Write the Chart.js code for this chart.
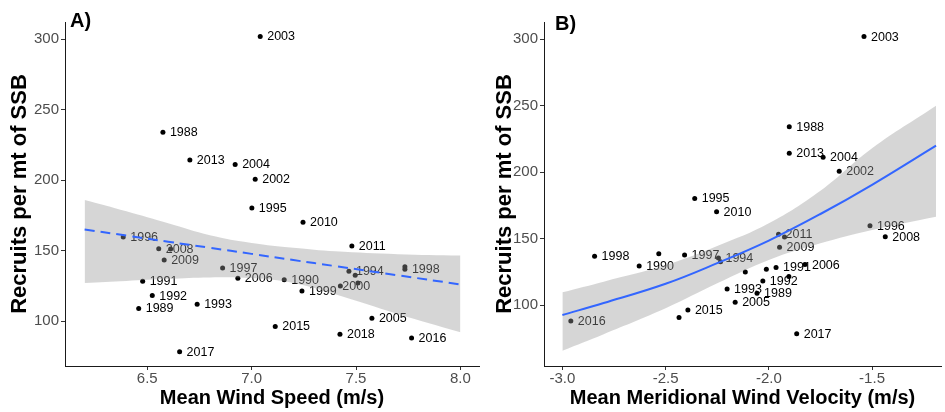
<!DOCTYPE html>
<html>
<head>
<meta charset="utf-8">
<script src="https://cdn.jsdelivr.net/npm/chart.js@4"></script>
<style>
  html, body { margin: 0; padding: 0; background: #fff; }
  #wrap { position: relative; width: 945px; height: 412px; }
  .panel { position: absolute; top: 0; height: 412px; }
  #panelA { left: 0; width: 485px; }
  #panelB { left: 485px; width: 460px; }
</style>
</head>
<body>
<div id="wrap">
  <div class="panel" id="panelA"><canvas id="chartA" width="485" height="412"></canvas></div>
  <div class="panel" id="panelB"><canvas id="chartB" width="460" height="412"></canvas></div>
</div>
<script>
// one entry per year
const years = [1988, 1989, 1990, 1991, 1992, 1993, 1994, 1995, 1996, 1997, 1998,
  1999, 2000, 2001, 2002, 2003, 2004, 2005, 2006, 2007, 2008,
  2009, 2010, 2011, 2012, 2013, 2014, 2015, 2016, 2017, 2018];
const recruits = [234.1, 108.9, 129.3, 128.3, 118.1, 112.0, 135.3, 180.2, 159.7, 137.7, 136.7,
  121.4, 124.9, 151.2, 200.7, 302.0, 211.2, 102.0, 130.4, 138.6, 151.4,
  143.4, 170.1, 153.2, 132.5, 214.3, 127.0, 96.2, 88.0, 78.3, 90.6];
const windSpeed = [6.575, 6.459, 7.156, 6.478, 6.524, 6.739, 7.466, 7.001, 6.385, 6.861, 7.734,
  7.241, 7.425, 6.612, 7.017, 7.041, 6.921, 7.576, 6.934, 7.734, 6.555,
  6.581, 7.246, 7.480, 7.496, 6.704, 7.509, 7.113, 7.766, 6.655, 7.423];
const meridional = [-1.901, -2.057, -2.628, -1.965, -2.029, -2.202, -2.244, -2.359, -1.510, -2.408, -2.844,
  -1.903, -2.114, -1.924, -1.659, -1.539, -1.737, -2.163, -1.825, -2.533, -1.436,
  -1.948, -2.253, -1.953, -2.234, -1.901, -2.012, -2.392, -2.959, -1.865, -2.435];

// years whose labels were dropped in each panel
const hiddenA = [2001, 2007, 2012, 2014];
const hiddenB = [1999, 2000, 2001, 2007, 2012, 2014, 2018];

// fitted line and confidence band
const fitAx = [6.2, 6.4, 6.6, 6.8, 7.0, 7.2, 7.4, 7.7, 8.0];
const fitAmean = [165.0, 160.7, 156.3, 152.0, 147.7, 143.3, 139.0, 132.5, 126.0];
const fitAupper = [186, 178, 169.5, 161, 155.5, 152, 149.5, 147.5, 146.5];
const fitAlower = [127, 128.5, 130, 131, 130.5, 127, 119, 105, 92];

const fitBx = [-3.0, -2.8, -2.5, -2.25, -2.0, -1.75, -1.5, -1.19];
const fitBmean = [92.5, 101.5, 116, 131.5, 148.5, 168.5, 190.5, 220];
const fitBupper = [109.6, 117.6, 130.1, 144.4, 161.5, 186, 218, 250];
const fitBlower = [65.6, 78, 97.5, 116.3, 133.9, 146.4, 156.5, 166.5];

const yTicks = [100, 150, 200, 250, 300];
const xTicksA = [6.5, 7.0, 7.5, 8.0];
const xTicksB = [-3.0, -2.5, -2.0, -1.5];

Chart.defaults.font.family = "'Liberation Sans', Arial, Helvetica, sans-serif";

// year labels go under the band, like the points
const yearLabels = {
  id: "yearLabels",
  beforeDatasetsDraw(chart, args, opts) {
    const ctx = chart.ctx;
    const meta = chart.getDatasetMeta(0);
    ctx.save();
    ctx.font = "12.5px 'Liberation Sans', Arial, sans-serif";
    ctx.fillStyle = "#000";
    ctx.textBaseline = "middle";
    ctx.textAlign = "left";
    meta.data.forEach((pt, i) => {
      const yr = years[i];
      if (opts.hidden.includes(yr)) return;
      const n = opts.nudge[yr] || [0, 0];
      ctx.fillText(String(yr), pt.x + 7 + n[0], pt.y + 0.5 + n[1]);
    });
    ctx.restore();
  }
};

const panelTag = {
  id: "panelTag",
  afterDraw(chart, args, opts) {
    const ctx = chart.ctx;
    ctx.save();
    ctx.font = "bold 20px 'Liberation Sans', Arial, sans-serif";
    ctx.fillStyle = "#000";
    ctx.textBaseline = "middle";
    ctx.fillText(opts.text, opts.x, opts.y);
    ctx.restore();
  }
};

function makePanel(id, cfg) {
  const pts = years.map((yr, i) => ({ x: cfg.xs[i], y: recruits[i] }));
  const curve = arr => cfg.fitX.map((x, i) => ({ x: x, y: arr[i] }));

  return new Chart(document.getElementById(id), {
    type: "scatter",
    data: {
      datasets: [
        {
          data: pts,
          backgroundColor: "#000",
          pointRadius: 2.5,
          borderWidth: 0,
          order: 3
        },
        {
          type: "line",
          data: curve(cfg.lower),
          borderColor: "rgba(0,0,0,0)",
          borderWidth: 0,
          pointRadius: 0,
          fill: false,
          tension: 0.4,
          order: 2
        },
        {
          type: "line",
          data: curve(cfg.upper),
          borderColor: "rgba(0,0,0,0)",
          borderWidth: 0,
          pointRadius: 0,
          fill: "-1",
          backgroundColor: "rgba(153,153,153,0.4)",
          tension: 0.4,
          order: 2
        },
        {
          type: "line",
          data: curve(cfg.mean),
          borderColor: "#3366FF",
          borderWidth: 2,
          borderDash: cfg.dash,
          pointRadius: 0,
          fill: false,
          tension: 0.4,
          order: 1
        }
      ]
    },
    options: {
      responsive: false,
      animation: false,
      events: [],
      layout: { padding: { top: 22, right: cfg.padRight, left: 0, bottom: 0 } },
      plugins: {
        legend: { display: false },
        tooltip: { enabled: false },
        yearLabels: { hidden: cfg.hidden, nudge: cfg.nudge },
        panelTag: { text: cfg.tag, x: 70, y: cfg.tagY }
      },
      scales: {
        x: {
          type: "linear",
          min: cfg.xMin,
          max: cfg.xMax,
          afterBuildTicks: s => { s.ticks = cfg.xTicks.map(v => ({ value: v })); },
          afterFit: s => { s.height = 46; },
          grid: { drawOnChartArea: false, drawTicks: true, tickLength: 4, color: "#333" },
          border: { display: true, color: "#1a1a1a", width: 1 },
          ticks: {
            padding: 0,
            color: "#4d4d4d",
            font: { size: 15 },
            maxRotation: 0,
            autoSkip: false,
            callback: v => v.toFixed(1)
          },
          title: {
            display: true,
            text: cfg.xTitle,
            color: "#000",
            font: { size: 20, weight: "bold" },
            padding: { top: 0, bottom: 2 }
          }
        },
        y: {
          type: "linear",
          min: cfg.yMin,
          max: cfg.yMax,
          afterBuildTicks: s => { s.ticks = yTicks.map(v => ({ value: v })); },
          afterFit: s => { s.width = cfg.yWidth; },
          grid: { drawOnChartArea: false, drawTicks: true, tickLength: 4, color: "#333" },
          border: { display: true, color: "#1a1a1a", width: 1 },
          ticks: { padding: 2, color: "#4d4d4d", font: { size: 15 }, autoSkip: false },
          title: {
            display: true,
            text: "Recruits per mt of SSB",
            color: "#000",
            font: { size: 22, weight: "bold" },
            padding: { top: 7, bottom: 0 }
          }
        }
      }
    },
    plugins: [yearLabels, panelTag]
  });
}

makePanel("chartA", {
  xs: windSpeed,
  fitX: fitAx, mean: fitAmean, upper: fitAupper, lower: fitAlower,
  dash: [10, 6],
  xMin: 6.106, xMax: 8.089, yMin: 68.1, yMax: 312.3,
  xTicks: xTicksA,
  xTitle: "Mean Wind Speed (m/s)",
  yWidth: 65, padRight: 6,
  hidden: hiddenA,
  nudge: { 2000: [-5, 0.5] },
  tag: "A)", tagY: 21
});

makePanel("chartB", {
  xs: meridional,
  fitX: fitBx, mean: fitBmean, upper: fitBupper, lower: fitBlower,
  dash: [],
  xMin: -3.089, xMax: -1.166, yMin: 54.1, yMax: 313.0,
  xTicks: xTicksB,
  xTitle: "Mean Meridional Wind Velocity (m/s)",
  yWidth: 59, padRight: 0,
  hidden: hiddenB,
  nudge: {},
  tag: "B)", tagY: 24
});
</script>
</body>
</html>
